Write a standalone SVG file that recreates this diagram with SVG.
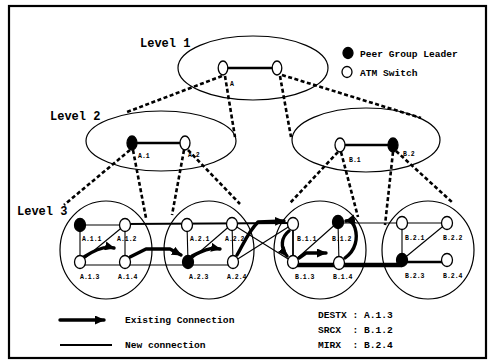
<svg xmlns="http://www.w3.org/2000/svg" width="491" height="364" viewBox="0 0 491 364">
  <style>
    .frame { fill: #fff; stroke: #000; stroke-width: 2.2; }
    .group { fill: none; stroke: #000; stroke-width: 1.2; }
    .map { fill: none; stroke: #000; stroke-width: 2.6; stroke-dasharray: 4 2.5; }
    .sw { fill: #fff; stroke: #000; stroke-width: 1.3; }
    .pgl { fill: #000; stroke: #000; stroke-width: 1.3; }
    .link { fill: none; stroke: #000; stroke-width: 1.1; }
    .mid { fill: none; stroke: #000; stroke-width: 1.8; }
    .trunk { fill: none; stroke: #000; stroke-width: 2.6; }
    .path { fill: none; stroke: #000; stroke-width: 3.4; stroke-linecap: round; stroke-linejoin: round; }
    .newc { fill: none; stroke: #000; stroke-width: 4.5; }
    text { font-family: "Liberation Mono", "DejaVu Sans Mono", monospace; font-weight: bold; fill: #000; }
    .lvl { font-size: 12px; }
    .leg { font-size: 9.6px; }
    .lbl { font-size: 6.5px; }
  </style>
  <defs>
    <marker id="head" markerUnits="userSpaceOnUse" markerWidth="10" markerHeight="9" refX="9" refY="4.5" orient="auto">
      <path d="M0,0 L10,4.5 L0,9 Z" fill="#000"/>
    </marker>
  </defs>

  <rect class="frame" x="9" y="6" width="477" height="352"/>

  <!-- peer group boundaries -->
  <g id="groups">
    <ellipse class="group" cx="253" cy="68" rx="75" ry="32"/>
    <ellipse class="group" cx="161" cy="141" rx="75" ry="30"/>
    <ellipse class="group" cx="366" cy="140" rx="74" ry="32"/>
    <ellipse class="group" cx="106" cy="250" rx="46" ry="49"/>
    <ellipse class="group" cx="209" cy="250" rx="45" ry="49"/>
    <ellipse class="group" cx="320" cy="250" rx="46" ry="49"/>
    <ellipse class="group" cx="428" cy="250" rx="46" ry="49"/>
  </g>

  <g id="levels">
    <text class="lvl" x="140" y="47">Level 1</text>
    <text class="lvl" x="50" y="120">Level 2</text>
    <text class="lvl" x="17" y="215">Level 3</text>
  </g>

  <g id="connectors">
    <!-- hierarchy mapping -->
    <line class="map" x1="222" y1="76" x2="127" y2="112"/>
    <line class="map" x1="225" y1="76" x2="235" y2="137"/>
    <line class="map" x1="280" y1="76" x2="291" y2="137"/>
    <line class="map" x1="282" y1="75" x2="421" y2="118"/>
    <line class="map" x1="130" y1="150" x2="64" y2="205"/>
    <line class="map" x1="133" y1="150" x2="146" y2="218"/>
    <line class="map" x1="184" y1="150" x2="172" y2="215"/>
    <line class="map" x1="188" y1="150" x2="240" y2="204"/>
    <line class="map" x1="338" y1="152" x2="290" y2="203"/>
    <line class="map" x1="341" y1="152" x2="358" y2="217"/>
    <line class="map" x1="393" y1="152" x2="385" y2="225"/>
    <line class="map" x1="396" y1="151" x2="453" y2="203"/>

    <!-- upper level links -->
    <line class="trunk" x1="223" y1="68" x2="277" y2="68"/>
    <line class="trunk" x1="132" y1="143" x2="185" y2="143"/>
    <line class="trunk" x1="340" y1="145" x2="393" y2="145"/>

    <!-- level 3 links -->
    <line class="link" x1="80" y1="225" x2="125" y2="225"/>
    <line class="link" x1="80" y1="225" x2="80" y2="262"/>
    <line class="link" x1="125" y1="225" x2="125" y2="262"/>
    <line class="link" x1="80" y1="265" x2="188" y2="265"/>
    <line class="link" x1="80" y1="262" x2="125" y2="225"/>
    <line class="mid" x1="125" y1="224" x2="293" y2="223"/>
    <line class="link" x1="187" y1="225" x2="188" y2="262"/>
    <line class="link" x1="232" y1="224" x2="233" y2="262"/>
    <line class="link" x1="188" y1="265" x2="233" y2="265"/>
    <line class="link" x1="188" y1="262" x2="232" y2="224"/>
    <line class="link" x1="232" y1="224" x2="293" y2="262"/>
    <line class="link" x1="233" y1="262" x2="293" y2="224"/>
    <line class="mid" x1="293" y1="224" x2="293" y2="262"/>
    <line class="link" x1="293" y1="262" x2="338" y2="222"/>
    <line class="link" x1="338" y1="222" x2="339" y2="263"/>
    <line class="link" x1="338" y1="223" x2="402" y2="223"/>
    <line class="link" x1="402" y1="223" x2="447" y2="223"/>
    <line class="link" x1="402" y1="223" x2="402" y2="260"/>
    <line class="link" x1="402" y1="260" x2="447" y2="223"/>
    <line class="newc" x1="293" y1="265" x2="402" y2="265"/>
    <line class="trunk" x1="402" y1="262" x2="447" y2="262"/>

    <!-- existing connection route -->
    <path class="path" d="M84,257 C96,249 106,246 114,248" marker-end="url(#head)"/>
    <path class="path" d="M130,257 L146,249 L170,249 L181,255" marker-end="url(#head)"/>
    <path class="path" d="M192,256 C202,251 210,247 220,249" marker-end="url(#head)"/>
    <path class="path" d="M237,255 C243,245 248,232 258,222 L284,221" marker-end="url(#head)"/>
    <path class="path" d="M289,231 C281,237 280,248 287,256" marker-end="url(#head)"/>
    <path class="path" d="M299,258 L306,253 L326,253" marker-end="url(#head)"/>
    <path class="path" d="M345,258 C356,250 358,238 355,228 C353,222 350,220 346,221" marker-end="url(#head)"/>
  </g>

  <!-- switches -->
  <g id="A"><ellipse class="sw" cx="223" cy="68" rx="4.8" ry="7"/><text class="lbl" x="230" y="86">A</text></g>
  <g id="B"><ellipse class="sw" cx="277" cy="68" rx="4.8" ry="7"/></g>
  <g id="A.1"><ellipse class="pgl" cx="132" cy="143" rx="5" ry="7"/><text class="lbl" x="138" y="158">A.1</text></g>
  <g id="A.2"><ellipse class="sw" cx="185" cy="143" rx="5" ry="7"/><text class="lbl" x="188" y="157">A.2</text></g>
  <g id="B.1"><ellipse class="sw" cx="340" cy="145" rx="5" ry="7"/><text class="lbl" x="349" y="162">B.1</text></g>
  <g id="B.2"><ellipse class="pgl" cx="393" cy="145" rx="5" ry="7"/><text class="lbl" x="403" y="156">B.2</text></g>

  <g id="A.1.1"><ellipse class="pgl" cx="80" cy="225" rx="5.5" ry="6.5"/><text class="lbl" x="82" y="241">A.1.1</text></g>
  <g id="A.1.2"><ellipse class="sw" cx="125" cy="225" rx="5.5" ry="6.5"/><text class="lbl" x="117" y="241">A.1.2</text></g>
  <g id="A.1.3"><ellipse class="sw" cx="80" cy="262" rx="5.5" ry="6.5"/><text class="lbl" x="80" y="279">A.1.3</text></g>
  <g id="A.1.4"><ellipse class="sw" cx="125" cy="262" rx="5.5" ry="6.5"/><text class="lbl" x="118" y="279">A.1.4</text></g>

  <g id="A.2.1"><ellipse class="sw" cx="187" cy="225" rx="5.5" ry="6.5"/><text class="lbl" x="190" y="241">A.2.1</text></g>
  <g id="A.2.2"><ellipse class="sw" cx="232" cy="224" rx="5.5" ry="6.5"/><text class="lbl" x="225" y="241">A.2.2</text></g>
  <g id="A.2.3"><ellipse class="pgl" cx="188" cy="262" rx="5.5" ry="6.5"/><text class="lbl" x="189" y="279">A.2.3</text></g>
  <g id="A.2.4"><ellipse class="sw" cx="233" cy="262" rx="5.5" ry="6.5"/><text class="lbl" x="227" y="279">A.2.4</text></g>

  <g id="B.1.1"><ellipse class="sw" cx="293" cy="224" rx="5.5" ry="6.5"/><text class="lbl" x="297" y="241">B.1.1</text></g>
  <g id="B.1.2"><ellipse class="pgl" cx="338" cy="222" rx="5.5" ry="6.5"/><text class="lbl" x="332" y="241">B.1.2</text></g>
  <g id="B.1.3"><ellipse class="sw" cx="293" cy="262" rx="5.5" ry="6.5"/><text class="lbl" x="295" y="279">B.1.3</text></g>
  <g id="B.1.4"><ellipse class="sw" cx="339" cy="263" rx="5.5" ry="6.5"/><text class="lbl" x="333" y="279">B.1.4</text></g>

  <g id="B.2.1"><ellipse class="sw" cx="402" cy="223" rx="5.5" ry="6.5"/><text class="lbl" x="405" y="240">B.2.1</text></g>
  <g id="B.2.2"><ellipse class="sw" cx="447" cy="223" rx="5.5" ry="6.5"/><text class="lbl" x="443" y="240">B.2.2</text></g>
  <g id="B.2.3"><ellipse class="pgl" cx="402" cy="260" rx="5.5" ry="6.5"/><text class="lbl" x="405" y="278">B.2.3</text></g>
  <g id="B.2.4"><ellipse class="sw" cx="447" cy="260" rx="5.5" ry="6.5"/><text class="lbl" x="443" y="278">B.2.4</text></g>

  <!-- legends -->
  <g id="legend-nodes">
    <ellipse class="pgl" cx="348" cy="53" rx="5" ry="5.5"/>
    <text class="leg" x="360" y="57">Peer Group Leader</text>
    <ellipse class="sw" cx="347" cy="72" rx="5" ry="5.5"/>
    <text class="leg" x="360" y="76">ATM Switch</text>
  </g>
  <g id="legend-lines">
    <line class="path" x1="60" y1="320" x2="104" y2="320" marker-end="url(#head)"/>
    <text class="leg" x="125" y="323">Existing Connection</text>
    <line class="mid" x1="60" y1="345" x2="112" y2="345"/>
    <text class="leg" x="125" y="348">New connection</text>
  </g>
  <g id="legend-roles">
    <text class="leg" x="318" y="318" xml:space="preserve">DESTX : A.1.3</text>
    <text class="leg" x="318" y="333" xml:space="preserve">SRCX  : B.1.2</text>
    <text class="leg" x="318" y="348" xml:space="preserve">MIRX  : B.2.4</text>
  </g>
</svg>
